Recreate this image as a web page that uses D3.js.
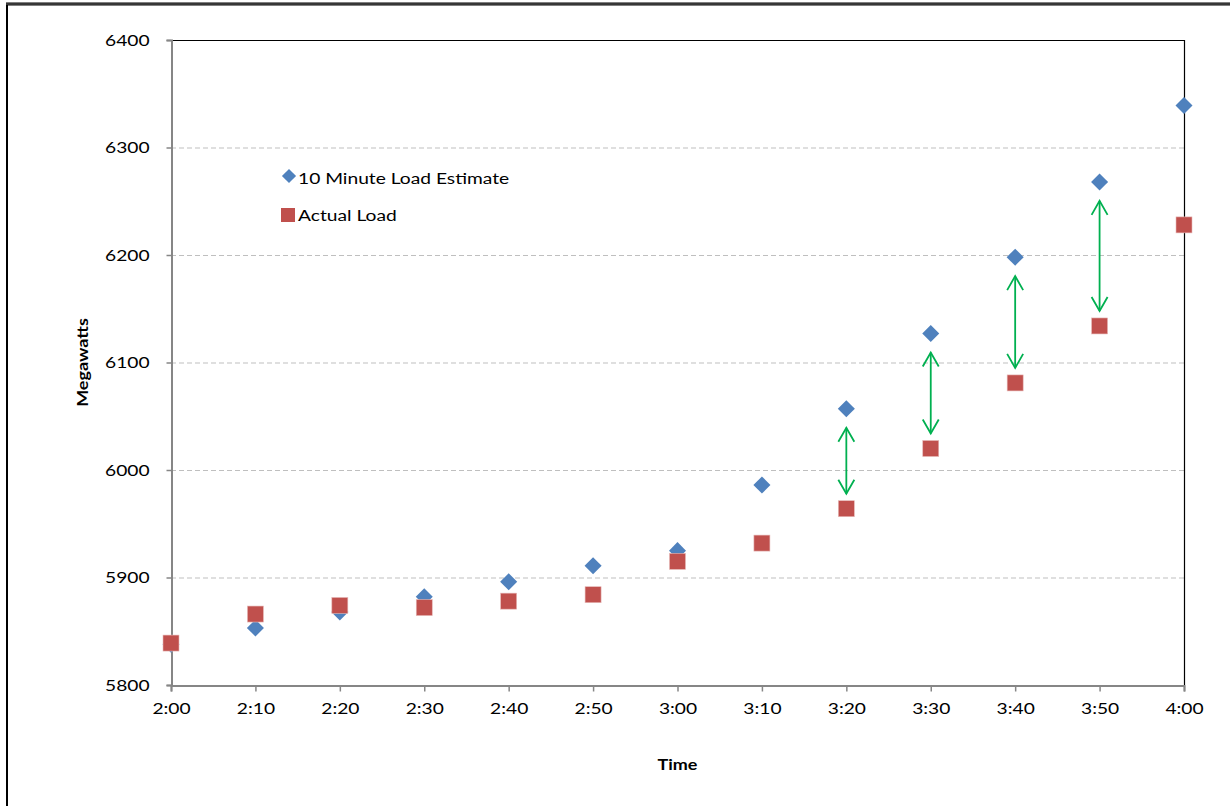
<!DOCTYPE html>
<html>
<head>
<meta charset="utf-8">
<script src="https://cdn.jsdelivr.net/npm/d3@7"></script>
<style>
  body { margin: 0; background: #fff; }
  text { font-family: Lato, "Open Sans", sans-serif; fill: #000; }
</style>
</head>
<body>
<svg id="chart" width="1230" height="806"></svg>
<script>
// time labels for x axis
var timeLabels = ["2:00", "2:10", "2:20", "2:30", "2:40", "2:50", "3:00", "3:10", "3:20", "3:30", "3:40", "3:50", "4:00"];
var yTicks = [5800, 5900, 6000, 6100, 6200, 6300, 6400];

// series values
var estimate = [5838, 5853, 5868, 5882, 5896, 5911, 5925, 5986, 6057, 6127, 6198, 6268, 6339];
var actual   = [5839, 5866, 5874, 5872, 5878, 5884, 5915, 5932, 5964, 6020, 6081, 6134, 6228];

// indices where a green gap arrow is drawn
var arrowAt = [8, 9, 10, 11];

var svg = d3.select("#chart");

var pLeft = 171, pRight = 1184, pTop = 40, pBottom = 685;
var stretch = 1.2;  // the source text looks wider than the font we have

var x = d3.scalePoint().domain(timeLabels).range([pLeft, pRight]);
var y = d3.scaleLinear().domain([5800, 6400]).range([pBottom, pTop]);

// outer chart frame (only left and top edge visible)
svg.append("line").attr("x1", 7).attr("x2", 7).attr("y1", 4).attr("y2", 806)
    .attr("stroke", "#000").attr("stroke-width", 2);
svg.append("line").attr("x1", 6).attr("x2", 1230).attr("y1", 4).attr("y2", 4)
    .attr("stroke", "#000").attr("stroke-width", 3);
svg.append("line").attr("x1", 6).attr("x2", 1230).attr("y1", 4).attr("y2", 4)
    .attr("stroke", "#888").attr("stroke-width", 0.8);

// gridlines
svg.append("g")
    .selectAll("line")
    .data(yTicks.filter(v => v > 5800 && v < 6400))
    .enter()
    .append("line")
    .attr("x1", pLeft).attr("x2", pRight)
    .attr("y1", v => y(v) + 0.5).attr("y2", v => y(v) + 0.5)
    .attr("stroke", "#bfbfbf")
    .attr("stroke-dasharray", "5,3");

// plot border top/right
svg.append("path")
    .attr("d", `M${pLeft},${pTop + 0.5}H${pRight + 0.5}V${pBottom}`)
    .attr("fill", "none").attr("stroke", "#000").attr("stroke-width", 1.2);

// y axis
var yAxis = svg.append("g")
    .attr("transform", `translate(${pLeft + 0.5},0)`)
    .call(d3.axisLeft(y).tickValues(yTicks).tickSize(5).tickFormat(d3.format("d")));
yAxis.select(".domain").attr("stroke", "#868686").attr("stroke-width", 2);
yAxis.selectAll(".tick line").attr("stroke", "#868686").attr("stroke-width", 1.5);
yAxis.selectAll("text")
    .attr("font-size", 16).attr("font-family", null)
    .attr("x", -22 / stretch)
    .attr("transform", `scale(${stretch},1)`);

// x axis
var xAxis = svg.append("g")
    .attr("transform", `translate(0,${pBottom + 0.5})`)
    .call(d3.axisBottom(x).tickSize(6).tickPadding(11));
xAxis.select(".domain").attr("stroke", "#868686").attr("stroke-width", 2);
xAxis.selectAll(".tick line").attr("stroke", "#868686").attr("stroke-width", 1.5);
xAxis.selectAll("text")
    .attr("font-size", 16).attr("font-family", null)
    .attr("transform", `scale(${stretch},1)`);

// axis titles
svg.append("text")
    .attr("transform", `translate(${x("3:00")},770) scale(${stretch},1)`)
    .attr("text-anchor", "middle")
    .attr("font-size", 15).attr("font-weight", "bold")
    .text("Time");

svg.append("text")
    .attr("transform", `translate(88,${(pTop + pBottom) / 2}) rotate(-90) scale(${stretch},1)`)
    .attr("text-anchor", "middle")
    .attr("font-size", 15).attr("font-weight", "bold")
    .text("Megawatts");

var diamond = d3.symbol().type(d3.symbolSquare).size(145);
var blue = "#4f81bd", red = "#c0504d", green = "#00b050";

// estimate markers (diamonds)
svg.append("g")
    .selectAll("path")
    .data(estimate)
    .enter()
    .append("path")
    .attr("d", diamond)
    .attr("transform", (d, i) => `translate(${x(timeLabels[i])},${y(d)}) rotate(45)`)
    .attr("fill", blue);

// actual markers (squares)
svg.append("g")
    .selectAll("rect")
    .data(actual)
    .enter()
    .append("rect")
    .attr("x", (d, i) => x(timeLabels[i]) - 8)
    .attr("y", d => y(d) - 8)
    .attr("width", 16).attr("height", 16)
    .attr("fill", red)
    .attr("stroke", "#e6b9b8").attr("stroke-width", 0.6);

// gap arrows
var arrows = svg.append("g")
    .attr("stroke", green).attr("stroke-width", 1.8).attr("fill", "none");
arrowAt.forEach(function(i) {
    var ax = x(timeLabels[i]);
    var y1 = y(estimate[i]) + 19;
    var y2 = y(actual[i]) - 15;
    arrows.append("line").attr("x1", ax).attr("x2", ax).attr("y1", y1).attr("y2", y2);
    arrows.append("path").attr("d", `M${ax - 8},${y1 + 14}L${ax},${y1}L${ax + 8},${y1 + 14}`);
    arrows.append("path").attr("d", `M${ax - 8},${y2 - 14}L${ax},${y2}L${ax + 8},${y2 - 14}`);
});

// legend
var legend = svg.append("g");
legend.append("path")
    .attr("d", d3.symbol().type(d3.symbolSquare).size(100))
    .attr("transform", "translate(289,176) rotate(45)")
    .attr("fill", blue);
legend.append("text")
    .attr("transform", `translate(298,184) scale(${stretch},1)`)
    .attr("font-size", 16)
    .text("10 Minute Load Estimate");
legend.append("rect")
    .attr("x", 281).attr("y", 208).attr("width", 14).attr("height", 14)
    .attr("fill", red);
legend.append("text")
    .attr("transform", `translate(298,221) scale(${stretch},1)`)
    .attr("font-size", 16)
    .text("Actual Load");
</script>
</body>
</html>
